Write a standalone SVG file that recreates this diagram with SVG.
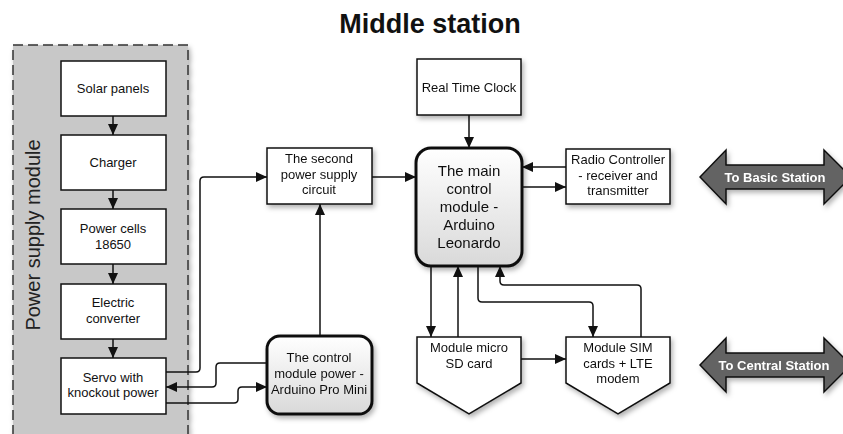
<svg xmlns="http://www.w3.org/2000/svg" width="843" height="434" viewBox="0 0 843 434">
<defs>
<style>
text{font-family:"Liberation Sans",Arial,sans-serif;fill:#111;}
.t{font-size:13px;text-anchor:middle;}
.tm{font-size:15px;text-anchor:middle;}
.box{fill:#fff;stroke:#111;stroke-width:1.5;}
.rbox{fill:url(#g);stroke:#111;stroke-width:3;}
.c{fill:none;stroke:#111;stroke-width:1.5;}
.dbl{fill:#636363;stroke:#111;stroke-width:1.5;}
.dt{font-size:13px;font-weight:bold;text-anchor:middle;fill:#fff;}
</style>
<linearGradient id="g" x1="0" y1="0" x2="0" y2="1">
<stop offset="0" stop-color="#ffffff"/>
<stop offset="1" stop-color="#d9d9d9"/>
</linearGradient>
<filter id="sh" x="-20%" y="-20%" width="150%" height="150%">
<feDropShadow dx="2" dy="3" stdDeviation="2.5" flood-color="#000" flood-opacity="0.3"/>
</filter>
<marker id="a" markerUnits="userSpaceOnUse" markerWidth="12" markerHeight="10" refX="11" refY="5" orient="auto">
<path d="M0,0 L11,5 L0,10 Z" fill="#111"/>
</marker>
</defs>
<rect width="843" height="434" fill="#fff"/>
<text x="430" y="33" style="font-size:27px;font-weight:bold;text-anchor:middle;">Middle station</text>

<g id="power-supply-module">
<rect x="13" y="45" width="175" height="395" fill="#c8c8c8" stroke="#333" stroke-width="1.5" stroke-dasharray="10,5" filter="url(#sh)"/>
<text x="40" y="235" transform="rotate(-90 40 235)" style="font-size:20px;text-anchor:middle;fill:#222;">Power supply module</text>
</g>

<g id="connectors">
<path class="c" d="M113,116 V135" marker-end="url(#a)"/>
<path class="c" d="M113,190 V209" marker-end="url(#a)"/>
<path class="c" d="M113,264 V284" marker-end="url(#a)"/>
<path class="c" d="M113,339 V358" marker-end="url(#a)"/>
<path class="c" d="M166,372 H196 Q200,372 200,368 V181 Q200,177 204,177 H267" marker-end="url(#a)"/>
<path class="c" d="M267,363 H220 Q216,363 216,367 V383 Q216,387 212,387 H166" marker-end="url(#a)"/>
<path class="c" d="M166,403 H234 Q238,403 238,399 V391 Q238,387 242,387 H267" marker-end="url(#a)"/>
<path class="c" d="M320,336 V204" marker-end="url(#a)"/>
<path class="c" d="M372,177 H416" marker-end="url(#a)"/>
<path class="c" d="M469,115 V148" marker-end="url(#a)"/>
<path class="c" d="M566,167 H522" marker-end="url(#a)"/>
<path class="c" d="M522,187 H566" marker-end="url(#a)"/>
<path class="c" d="M431,266 V337" marker-end="url(#a)"/>
<path class="c" d="M458,337 V266" marker-end="url(#a)"/>
<path class="c" d="M478,266 V298 Q478,302 482,302 H589 Q593,302 593,306 V337" marker-end="url(#a)"/>
<path class="c" d="M641,337 V289 Q641,285 637,285 H504 Q500,285 500,281 V266" marker-end="url(#a)"/>
<path class="c" d="M521,359 H566" marker-end="url(#a)"/>
</g>

<g id="solar-panels">
<rect class="box" x="61" y="61" width="105" height="55"/>
<text class="t" x="113" y="93">Solar panels</text>
</g>
<g id="charger">
<rect class="box" x="61" y="135" width="105" height="55"/>
<text class="t" x="113" y="167">Charger</text>
</g>
<g id="power-cells">
<rect class="box" x="61" y="209" width="105" height="55"/>
<text class="t" x="113" y="233">Power cells</text>
<text class="t" x="113" y="249">18650</text>
</g>
<g id="electric-converter">
<rect class="box" x="61" y="284" width="105" height="55"/>
<text class="t" x="113" y="307">Electric</text>
<text class="t" x="113" y="323">converter</text>
</g>
<g id="servo">
<rect class="box" x="61" y="358" width="105" height="56"/>
<text class="t" x="113" y="382">Servo with</text>
<text class="t" x="113" y="397">knockout power</text>
</g>

<g id="second-power-supply" filter="url(#sh)">
<rect class="box" x="267" y="148" width="105" height="56"/>
<text class="t" x="319" y="163">The second</text>
<text class="t" x="319" y="179">power supply</text>
<text class="t" x="319" y="194">circuit</text>
</g>

<g id="control-module-power" filter="url(#sh)">
<rect class="rbox" x="267" y="336" width="105" height="78" rx="13"/>
<text class="t" x="319" y="362">The control</text>
<text class="t" x="319" y="378">module power -</text>
<text class="t" x="319" y="394">Arduino Pro Mini</text>
</g>

<g id="real-time-clock" filter="url(#sh)">
<rect class="box" x="417" y="59" width="104" height="56"/>
<text class="t" x="469" y="92">Real Time Clock</text>
</g>

<g id="main-control-module" filter="url(#sh)">
<rect class="rbox" x="416" y="148" width="106" height="118" rx="15"/>
<text class="tm" x="469" y="176">The main</text>
<text class="tm" x="469" y="194">control</text>
<text class="tm" x="469" y="212">module -</text>
<text class="tm" x="469" y="230">Arduino</text>
<text class="tm" x="469" y="248">Leonardo</text>
</g>

<g id="radio-controller" filter="url(#sh)">
<rect class="box" x="566" y="149" width="104" height="55"/>
<text class="t" x="618" y="164">Radio Controller</text>
<text class="t" x="618" y="180">- receiver and</text>
<text class="t" x="618" y="195">transmitter</text>
</g>

<g id="sd-card" filter="url(#sh)">
<path class="box" d="M417,337 H521 V383 L469,414 L417,383 Z"/>
<text class="t" x="469" y="352">Module micro</text>
<text class="t" x="469" y="368">SD card</text>
</g>

<g id="sim-lte" filter="url(#sh)">
<path class="box" d="M566,337 H670 V383 L618,414 L566,383 Z"/>
<text class="t" x="618" y="352">Module SIM</text>
<text class="t" x="618" y="368">cards + LTE</text>
<text class="t" x="618" y="383">modem</text>
</g>

<g id="to-basic-station" filter="url(#sh)">
<polygon class="dbl" points="700,177 726,150 726,165 824,165 824,150 851,177 824,204 824,189 726,189 726,204"/>
<text class="dt" x="775" y="182">To Basic Station</text>
</g>

<g id="to-central-station" filter="url(#sh)">
<polygon class="dbl" points="700,365 726,338 726,353 824,353 824,338 851,365 824,392 824,377 726,377 726,392"/>
<text class="dt" x="774" y="370">To Central Station</text>
</g>
</svg>
